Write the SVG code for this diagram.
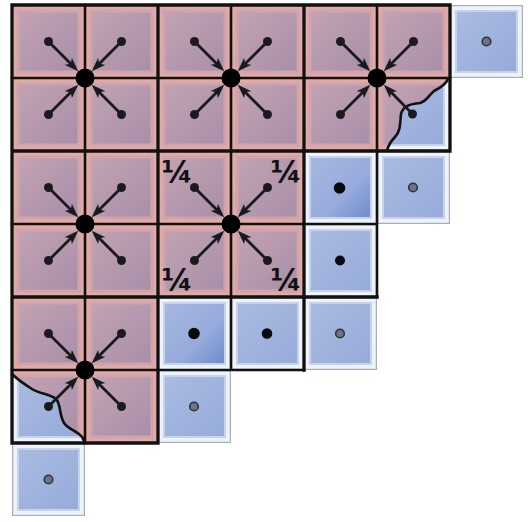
<svg xmlns="http://www.w3.org/2000/svg" xmlns:xlink="http://www.w3.org/1999/xlink" width="528" height="522" viewBox="0 0 528 522">
<style>
.grid{stroke:#111;stroke-width:2.6;fill:none;stroke-linecap:square}
.gridb{stroke:#111;stroke-width:3.3;fill:none;stroke-linecap:square}
.wave{stroke:#111;stroke-width:2.6;fill:none;stroke-linecap:round}
.arrow{stroke:#1a1a1a;stroke-width:2.8;fill:none;marker-end:url(#ah)}
.sdot{fill:#1c1a1e}
.bdot{fill:#000}
.kdot{fill:#0a0a0c}
.gdot{fill:#6e7484;stroke:#30333a;stroke-width:1.6}
.q{font-family:"DejaVu Sans","Liberation Sans",sans-serif;font-weight:bold;font-size:30px;fill:#111;text-anchor:middle}
</style>
<defs>
<linearGradient id="gPink" x1="0" y1="0" x2="1" y2="1">
<stop offset="0" stop-color="#c2a3b3"/><stop offset="1" stop-color="#a88ea9"/>
</linearGradient>
<linearGradient id="gBlue" x1="0" y1="0" x2="1" y2="1">
<stop offset="0" stop-color="#a9bbe1"/><stop offset="1" stop-color="#97abda"/>
</linearGradient>
<linearGradient id="gBlueD" x1="0" y1="0" x2="1" y2="1">
<stop offset="0" stop-color="#a6b8df"/><stop offset="0.6" stop-color="#97abdc"/><stop offset="1" stop-color="#6f8bcd"/>
</linearGradient>
<g id="pinkCell">
<rect width="73" height="73" fill="#e2aaa6"/>
<rect x="6" y="6" width="61" height="61" fill="url(#gPink)" stroke="#d0a4ab" stroke-width="3"/>
</g>
<g id="blueCell">
<rect width="73" height="73" fill="#edf2fb"/>
<rect x="0.6" y="0.6" width="71.8" height="71.8" fill="none" stroke="#a6aebd" stroke-width="1.2"/>
<rect x="6" y="6" width="61" height="61" fill="url(#gBlue)" stroke="#c7d3ec" stroke-width="2"/>
</g>
<g id="blueCellD">
<rect width="73" height="73" fill="#edf2fb"/>
<rect x="6" y="6" width="61" height="61" fill="url(#gBlueD)" stroke="#c7d3ec" stroke-width="2"/>
</g>
<clipPath id="clip1">
<path d="M448,79 C446,84 440,88 434,91 C428,96 427,101 420,103 C410,104 403,106 401,114 C400,122 401,131 395,137 C390,142 388,146 387,151 L451,151 L451,78 Z"/>
</clipPath>
<clipPath id="clip2">
<path d="M12,374 C18,380 24,384 32,389 C40,394 50,394 56,399 C61,404 59,415 64,423 C69,430 78,431 82,437 L85,443 L12,443 Z"/>
</clipPath>
<marker id="ah" viewBox="0 0 14 10" refX="8" refY="5" markerWidth="14" markerHeight="10" markerUnits="userSpaceOnUse" orient="auto">
<path d="M0,0 L14,5 L0,10 L3.5,5 Z" fill="#1a1a1a"/>
</marker>
</defs>
<rect width="528" height="522" fill="#fff"/>

<g id="cells">
<g id="cell-r0c0"><use href="#pinkCell" x="12" y="5"/><circle class="sdot" cx="48.5" cy="41.5" r="4.5"/></g>
<g id="cell-r0c1"><use href="#pinkCell" x="85" y="5"/><circle class="sdot" cx="121.5" cy="41.5" r="4.5"/></g>
<g id="cell-r0c2"><use href="#pinkCell" x="158" y="5"/><circle class="sdot" cx="194.5" cy="41.5" r="4.5"/></g>
<g id="cell-r0c3"><use href="#pinkCell" x="231" y="5"/><circle class="sdot" cx="267.5" cy="41.5" r="4.5"/></g>
<g id="cell-r0c4"><use href="#pinkCell" x="304" y="5"/><circle class="sdot" cx="340.5" cy="41.5" r="4.5"/></g>
<g id="cell-r0c5"><use href="#pinkCell" x="377" y="5"/><circle class="sdot" cx="413.5" cy="41.5" r="4.5"/></g>
<g id="cell-r0c6"><use href="#blueCell" x="450" y="5"/><circle class="gdot" cx="486.5" cy="41.5" r="4.3"/></g>

<g id="cell-r1c0"><use href="#pinkCell" x="12" y="78"/><circle class="sdot" cx="48.5" cy="114.5" r="4.5"/></g>
<g id="cell-r1c1"><use href="#pinkCell" x="85" y="78"/><circle class="sdot" cx="121.5" cy="114.5" r="4.5"/></g>
<g id="cell-r1c2"><use href="#pinkCell" x="158" y="78"/><circle class="sdot" cx="194.5" cy="114.5" r="4.5"/></g>
<g id="cell-r1c3"><use href="#pinkCell" x="231" y="78"/><circle class="sdot" cx="267.5" cy="114.5" r="4.5"/></g>
<g id="cell-r1c4"><use href="#pinkCell" x="304" y="78"/><circle class="sdot" cx="340.5" cy="114.5" r="4.5"/></g>
<g id="cell-r1c5"><use href="#pinkCell" x="377" y="78"/><g clip-path="url(#clip1)"><use href="#blueCell" x="377" y="78"/></g><circle class="sdot" cx="412.5" cy="114" r="4.5"/></g>

<g id="cell-r2c0"><use href="#pinkCell" x="12" y="151"/><circle class="sdot" cx="48.5" cy="187.5" r="4.5"/></g>
<g id="cell-r2c1"><use href="#pinkCell" x="85" y="151"/><circle class="sdot" cx="121.5" cy="187.5" r="4.5"/></g>
<g id="cell-r2c2"><use href="#pinkCell" x="158" y="151"/><circle class="sdot" cx="194.5" cy="187.5" r="4.5"/></g>
<g id="cell-r2c3"><use href="#pinkCell" x="231" y="151"/><circle class="sdot" cx="267.5" cy="187.5" r="4.5"/></g>
<g id="cell-r2c4"><use href="#blueCellD" x="304" y="151"/><circle class="kdot" cx="339.5" cy="188" r="5.8"/></g>
<g id="cell-r2c5"><use href="#blueCell" x="377" y="151"/><circle class="gdot" cx="413" cy="187.5" r="4.3"/></g>

<g id="cell-r3c0"><use href="#pinkCell" x="12" y="224"/><circle class="sdot" cx="48.5" cy="260.5" r="4.5"/></g>
<g id="cell-r3c1"><use href="#pinkCell" x="85" y="224"/><circle class="sdot" cx="121.5" cy="260.5" r="4.5"/></g>
<g id="cell-r3c2"><use href="#pinkCell" x="158" y="224"/><circle class="sdot" cx="194.5" cy="260.5" r="4.5"/></g>
<g id="cell-r3c3"><use href="#pinkCell" x="231" y="224"/><circle class="sdot" cx="267.5" cy="260.5" r="4.5"/></g>
<g id="cell-r3c4"><use href="#blueCell" x="304" y="224"/><circle class="kdot" cx="340" cy="260.5" r="5"/></g>

<g id="cell-r4c0"><use href="#pinkCell" x="12" y="297"/><circle class="sdot" cx="48.5" cy="333.5" r="4.5"/></g>
<g id="cell-r4c1"><use href="#pinkCell" x="85" y="297"/><circle class="sdot" cx="121.5" cy="333.5" r="4.5"/></g>
<g id="cell-r4c2"><use href="#blueCellD" x="158" y="297"/><circle class="kdot" cx="194" cy="333.5" r="5.8"/></g>
<g id="cell-r4c3"><use href="#blueCell" x="231" y="297"/><circle class="kdot" cx="267" cy="333.5" r="5.3"/></g>
<g id="cell-r4c4"><use href="#blueCell" x="304" y="297"/><circle class="gdot" cx="340" cy="333.5" r="4.3"/></g>

<g id="cell-r5c0"><use href="#pinkCell" x="12" y="370"/><g clip-path="url(#clip2)"><use href="#blueCell" x="12" y="370"/></g><circle class="sdot" cx="48.5" cy="406.5" r="4.5"/></g>
<g id="cell-r5c1"><use href="#pinkCell" x="85" y="370"/><circle class="sdot" cx="121.5" cy="406.5" r="4.5"/></g>
<g id="cell-r5c2"><use href="#blueCell" x="158" y="370"/><circle class="gdot" cx="194" cy="406.5" r="4.3"/></g>

<g id="cell-r6c0"><use href="#blueCell" x="12" y="443"/><circle class="gdot" cx="48.5" cy="479.5" r="4.3"/></g>
</g>

<g id="grid">
<path class="grid" d="M12,78 H450 M12,224 H377 M12,370 H304 M85,5 V443 M231,5 V370 M377,5 V297"/>
<path class="gridb" d="M12,5 H450 M12,151 H450 M12,297 H377 M12,443 H158 M12,5 V443 M158,5 V443 M304,5 V370 M450,5 V151"/>
<path class="wave" d="M448,79 C446,84 440,88 434,91 C428,96 427,101 420,103 C410,104 403,106 401,114 C400,122 401,131 395,137 C390,142 388,146 387,151"/>
<path class="wave" d="M12,374 C18,380 24,384 32,389 C40,394 50,394 56,399 C61,404 59,415 64,423 C69,430 78,431 82,437 L85,443"/>
</g>

<g id="connectors">
<path class="arrow" d="M48.5,41.5 L74,67"/>
<path class="arrow" d="M121.5,41.5 L96,67"/>
<path class="arrow" d="M48.5,114.5 L74,89"/>
<path class="arrow" d="M121.5,114.5 L96,89"/>
<path class="arrow" d="M194.5,41.5 L220,67"/>
<path class="arrow" d="M267.5,41.5 L242,67"/>
<path class="arrow" d="M194.5,114.5 L220,89"/>
<path class="arrow" d="M267.5,114.5 L242,89"/>
<path class="arrow" d="M340.5,41.5 L366,67"/>
<path class="arrow" d="M413.5,41.5 L388,67"/>
<path class="arrow" d="M340.5,114.5 L366,89"/>
<path class="arrow" d="M412.5,114 L388,89"/>
<path class="arrow" d="M48.5,187.5 L74,213"/>
<path class="arrow" d="M121.5,187.5 L96,213"/>
<path class="arrow" d="M48.5,260.5 L74,235"/>
<path class="arrow" d="M121.5,260.5 L96,235"/>
<path class="arrow" d="M194.5,187.5 L220,213"/>
<path class="arrow" d="M267.5,187.5 L242,213"/>
<path class="arrow" d="M194.5,260.5 L220,235"/>
<path class="arrow" d="M267.5,260.5 L242,235"/>
<path class="arrow" d="M48.5,333.5 L74,359"/>
<path class="arrow" d="M121.5,333.5 L96,359"/>
<path class="arrow" d="M48.5,406.5 L74,381"/>
<path class="arrow" d="M121.5,406.5 L96,381"/>
</g>

<g id="node-a"><circle class="bdot" cx="85" cy="78" r="9.5"/></g>
<g id="node-b"><circle class="bdot" cx="231" cy="78" r="9.5"/></g>
<g id="node-c"><circle class="bdot" cx="377" cy="78" r="9.5"/></g>
<g id="node-d"><circle class="bdot" cx="85" cy="224" r="9.5"/></g>
<g id="node-e"><circle class="bdot" cx="231" cy="224" r="9.5"/></g>
<g id="node-f"><circle class="bdot" cx="85" cy="370" r="9.5"/></g>

<g id="labels">
<text class="q" x="177" y="182">¼</text>
<text class="q" x="286" y="182">¼</text>
<text class="q" x="177" y="290">¼</text>
<text class="q" x="286" y="290">¼</text>
</g>
</svg>
